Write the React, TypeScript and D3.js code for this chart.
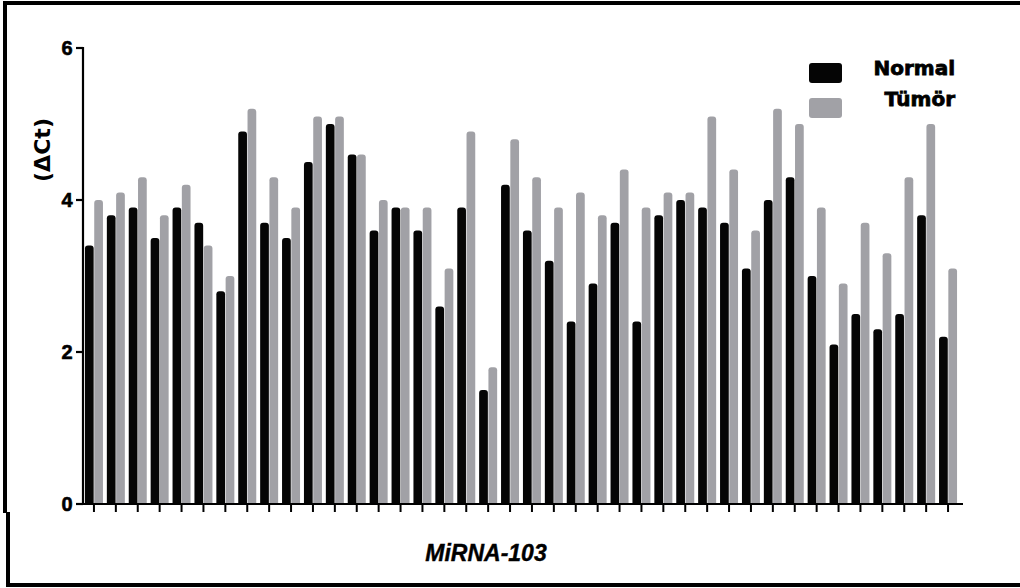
import React from "react";
import * as d3 from "d3";

const samples: string[] = Array.from({ length: 40 }, (_, i) => `S${i + 1}`);
const normalValues: number[] = [
  3.4, 3.8, 3.9, 3.5, 3.9, 3.7, 2.8, 4.9, 3.7, 3.5,
  4.5, 5.0, 4.6, 3.6, 3.9, 3.6, 2.6, 3.9, 1.5, 4.2,
  3.6, 3.2, 2.4, 2.9, 3.7, 2.4, 3.8, 4.0, 3.9, 3.7,
  3.1, 4.0, 4.3, 3.0, 2.1, 2.5, 2.3, 2.5, 3.8, 2.2,
];
const tumorValues: number[] = [
  4.0, 4.1, 4.3, 3.8, 4.2, 3.4, 3.0, 5.2, 4.3, 3.9,
  5.1, 5.1, 4.6, 4.0, 3.9, 3.9, 3.1, 4.9, 1.8, 4.8,
  4.3, 3.9, 4.1, 3.8, 4.4, 3.9, 4.1, 4.1, 5.1, 4.4,
  3.6, 5.2, 5.0, 3.9, 2.9, 3.7, 3.3, 4.3, 5.0, 3.1,
];
const seriesNames: string[] = ["Normal", "Tümör"];
const seriesColors: string[] = ["#050505", "#a1a1a6"];
const yTicks: number[] = [0, 2, 4, 6];
const yLabel = "(\u0394Ct)";
const xLabel = "MiRNA-103";

function topRoundedBar(x: number, y: number, w: number, h: number, r: number): string {
  const rr = Math.min(r, w / 2, h);
  return `M${x},${y + h} L${x},${y + rr} Q${x},${y} ${x + rr},${y} L${x + w - rr},${y} Q${x + w},${y} ${x + w},${y + rr} L${x + w},${y + h} Z`;
}

export default function App() {
  const W = 1020;
  const H = 588;
  const x0 = d3.scaleBand<string>().domain(samples).range([83, 959]).padding(0);
  const x1 = d3.scaleBand<string>().domain(seriesNames).range([-9, 9]).paddingInner(0.06);
  const y = d3.scaleLinear().domain([0, 6]).range([504, 48]);
  const series = [normalValues, tumorValues];
  const font = "'Liberation Sans', Arial, Helvetica, sans-serif";

  return (
    <svg width={W} height={H} style={{ position: "absolute", left: 0, top: 0, background: "#fff" }}>
      {/* frame */}
      <rect x={3} y={1} width={1017} height={4} fill="#000" />
      <rect x={3} y={1} width={4} height={512} fill="#000" />
      <rect x={6} y={512} width={4} height={75} fill="#000" />
      <rect x={6} y={583} width={1014} height={4} fill="#000" />

      {/* bars */}
      {samples.map((s, i) => {
        const c = (x0(s) as number) + x0.bandwidth() / 2;
        return (
          <g key={s}>
            {series.map((vals, k) => {
              const bx = c + (x1(seriesNames[k]) as number);
              const top = y(vals[i]);
              return (
                <path
                  key={k}
                  d={topRoundedBar(bx, top, x1.bandwidth(), y(0) - top, 3)}
                  fill={seriesColors[k]}
                />
              );
            })}
          </g>
        );
      })}

      {/* y axis */}
      <line x1={83} x2={83} y1={y(6) - 1} y2={y(0) + 1} stroke="#000" strokeWidth={2.2} />
      {yTicks.map((t) => (
        <g key={t}>
          <line x1={76} x2={83} y1={y(t)} y2={y(t)} stroke="#000" strokeWidth={2.2} />
          <text
            x={72.5}
            y={y(t)}
            dy="0.36em"
            textAnchor="end"
            fontFamily={font}
            fontWeight="bold"
            fontSize={20}
            fill="#000"
            stroke="#000"
            strokeWidth={0.6}
          >
            {t}
          </text>
        </g>
      ))}
      <text
        transform={`translate(50,150) rotate(-90)`}
        textAnchor="middle"
        fontFamily="'DejaVu Sans', sans-serif"
        fontWeight="bold"
        fontSize={21}
        textLength={64}
        lengthAdjust="spacingAndGlyphs"
        fill="#000"
      >
        {yLabel}
      </text>

      {/* x axis */}
      <line x1={82} x2={963} y1={y(0)} y2={y(0)} stroke="#000" strokeWidth={2.2} />
      {samples.map((s) => {
        const c = (x0(s) as number) + x0.bandwidth() / 2;
        return <line key={s} x1={c} x2={c} y1={y(0)} y2={y(0) + 8} stroke="#000" strokeWidth={2} />;
      })}
      <text
        x={486}
        y={561}
        textAnchor="middle"
        fontFamily={font}
        fontWeight="bold"
        fontStyle="italic"
        fontSize={23}
        fill="#000"
        stroke="#000"
        strokeWidth={0.4}
      >
        {xLabel}
      </text>

      {/* legend */}
      {seriesNames.map((n, k) => (
        <g key={n}>
          <rect x={809} y={63 + k * 35} width={33} height={20} rx={3} fill={seriesColors[k]} />
          <text
            x={955}
            y={75 + k * 31}
            textAnchor="end"
            fontFamily="'DejaVu Sans', sans-serif"
            fontWeight="bold"
            fontSize={20}
            fill="#000"
            stroke="#000"
            strokeWidth={0.8}
          >
            {n}
          </text>
        </g>
      ))}
    </svg>
  );
}
